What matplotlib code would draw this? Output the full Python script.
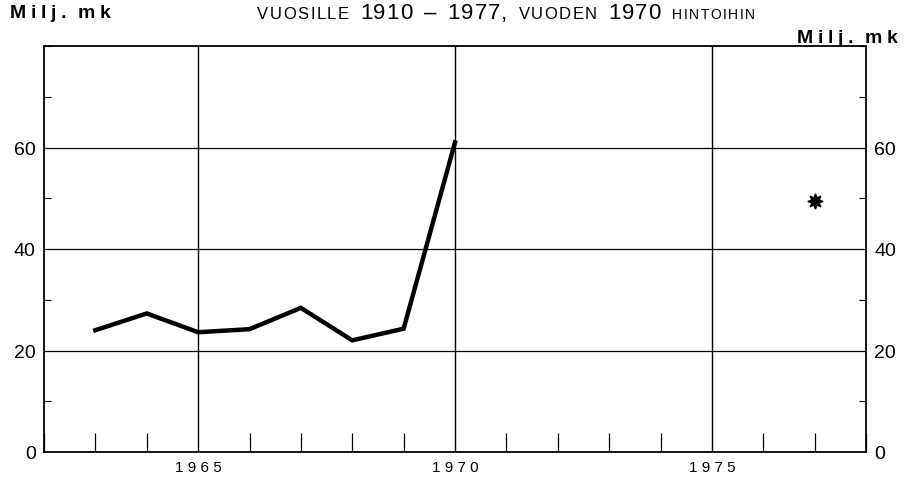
import matplotlib.pyplot as plt
from matplotlib.ticker import MultipleLocator

# yearly values, milj. mk (1970 prices)
years = [1963, 1964, 1965, 1966, 1967, 1968, 1969, 1970]
values = [24, 27.3, 23.6, 24.2, 28.4, 22, 24.3, 61]

# single forecast point
star_year = [1977]
star_value = [49.5]

y_ticks = [0, 20, 40, 60]
x_ticks = [1965, 1970, 1975]

# title pieces
title_parts = ["VUOSILLE", "1910", "–", "1977,", "VUODEN", "1970", "HINTOIHIN"]
title_sizes = [12, 16, 16, 16, 12, 16, 10]

FONT = "Liberation Sans"
W, H = 907, 485

fig = plt.figure(figsize=(W / 100, H / 100), dpi=100)
ax = fig.add_axes([44 / W, 1 - 453 / H, (866 - 44) / W, (453 - 47) / H])
renderer = fig.canvas.get_renderer()


# draw a string letter by letter with extra spacing (pixels); returns end x and the texts
def Spaced_Text(x_px, y_px, s, spacing, **kw):
    x = x_px
    drawn = []
    for ch in s:
        if ch == " ":
            x += spacing * 1.6
            continue
        t = fig.text(x / W, 1 - y_px / H, ch, ha="left", va="baseline", **kw)
        drawn.append(t)
        x += t.get_window_extent(renderer).width + spacing
    return x - spacing, drawn


def Draw_Title(x0, y, gap):
    x = x0
    drawn = []
    for part, size in zip(title_parts, title_sizes):
        sp = 1.5 if size < 14 else 1.0
        x, d = Spaced_Text(x, y, part, sp, fontsize=size, family=FONT)
        drawn += d
        x += gap
    return x - gap, drawn


ax.set_xlim(1962, 1978)
ax.set_ylim(0, 80)

# grid lines
for y in y_ticks[1:]:
    ax.axhline(y, color="black", lw=0.9, zorder=1)
for x in x_ticks:
    ax.axvline(x, color="black", lw=1.0, zorder=1)

ax.plot(years, values, color="black", lw=3.2, solid_joinstyle="miter", zorder=3)
ax.plot(star_year, star_value, linestyle="none", marker=(8, 1, 0), markersize=11,
        color="black", zorder=3)

for s in ax.spines.values():
    s.set_linewidth(1.3)

ax.set_xticks(x_ticks)
ax.set_xticklabels([" ".join(str(x)) for x in x_ticks], fontsize=11, family=FONT)
ax.xaxis.set_minor_locator(MultipleLocator(1))
ax.tick_params(axis="x", which="major", length=0, pad=6)
ax.tick_params(axis="x", which="minor", direction="in", length=14, width=0.9)

ax.set_yticks(y_ticks)
ax.set_yticklabels([str(v) for v in y_ticks], fontsize=14, family=FONT)
ax.yaxis.set_minor_locator(MultipleLocator(10))
ax.tick_params(axis="y", which="major", length=0, pad=6, right=True, labelright=True)
ax.tick_params(axis="y", which="minor", direction="in", length=5, width=0.8, right=True)

# axis unit labels
Spaced_Text(10, 18, "Milj. mk", 4.5, fontsize=14, fontweight="bold", family=FONT)
Spaced_Text(797, 43, "Milj. mk", 4.5, fontsize=14, fontweight="bold", family=FONT)

# title: first pass to measure, then spread the pieces over x = 257..755
end, tmp = Draw_Title(257, 19, 0)
for t in tmp:
    t.remove()
gap = (755 - end) / (len(title_parts) - 1)
Draw_Title(257, 19, gap)

fig.savefig("out.png", dpi=100)
